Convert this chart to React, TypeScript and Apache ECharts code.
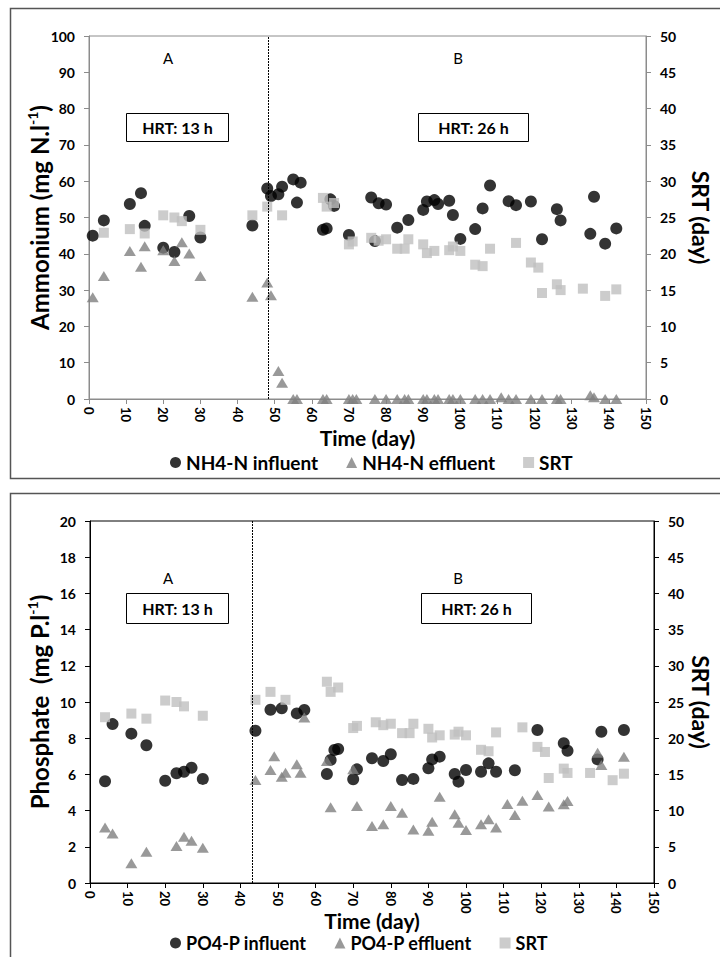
import React, { useEffect, useRef } from "react";
import * as echarts from "echarts";

// ---------- DATA ----------
const xTicks = [0, 150, 10];

// Top chart (ammonium)
const nInfDays = [1, 4, 11, 14, 15, 20, 23, 27, 30, 44, 48, 49, 51, 52, 55, 56, 57, 63, 64, 65, 66, 70, 76, 77, 78, 80, 83, 86, 90, 91, 93, 94, 97, 98, 100, 104, 106, 108, 113, 115, 119, 122, 126, 127, 135, 136, 139, 142];
const nInfVals = [45, 49.2, 53.7, 56.7, 47.7, 41.7, 40.5, 50.4, 44.5, 47.8, 58, 55.9, 56.4, 58.5, 60.5, 54.1, 59.6, 46.6, 47, 55, 53.2, 45.2, 55.5, 43.5, 53.9, 53.6, 47.2, 49.3, 52.1, 54.4, 54.8, 53.7, 54.6, 50.7, 44.1, 46.8, 52.5, 58.8, 54.5, 53.4, 54.4, 44.0, 52.3, 49.2, 45.5, 55.7, 42.8, 47.0];

const nEffDays = [1, 4, 11, 14, 15, 20, 23, 25, 27, 30, 44, 48, 49, 51, 52, 55, 56, 63, 64, 70, 71, 72, 77, 80, 83, 85, 86, 90, 91, 93, 94, 97, 98, 100, 104, 106, 108, 111, 113, 115, 119, 122, 126, 127, 135, 136, 139, 142];
const nEffVals = [28, 33.9, 40.8, 36.4, 42.1, 41, 38, 43.2, 40.1, 33.9, 28.2, 32.1, 28.6, 7.7, 4.5, 0, 0, 0, 0, 0, 0, 0, 0, 0, 0, 0, 0, 0, 0, 0, 0, 0, 0, 0, 0, 0, 0, 0.5, 0, 0, 0, 0, 0, 0, 1.0, 0.5, 0, 0];

const nSrtDays = [4, 11, 15, 20, 23, 25, 30, 44, 48, 52, 63, 64, 66, 70, 71, 76, 78, 80, 83, 85, 86, 90, 91, 93, 97, 98, 100, 104, 106, 108, 115, 119, 121, 122, 126, 127, 133, 139, 142];
const nSrtVals = [22.9, 23.4, 22.8, 25.3, 25.0, 24.5, 23.3, 25.3, 26.5, 25.3, 27.7, 26.5, 27.0, 21.3, 21.7, 22.2, 21.8, 22.0, 20.7, 20.7, 22.0, 21.3, 20.1, 20.4, 20.5, 21.0, 20.4, 18.5, 18.3, 20.7, 21.5, 18.8, 18.1, 14.6, 15.8, 15.0, 15.2, 14.2, 15.1];

// Bottom chart (phosphate)
const pInfDays = [4, 6, 11, 15, 20, 23, 25, 27, 30, 44, 48, 51, 55, 57, 63, 64, 65, 66, 70, 71, 75, 78, 80, 83, 86, 90, 91, 93, 97, 98, 100, 104, 106, 108, 113, 119, 126, 127, 135, 136, 142];
const pInfVals = [5.62, 8.78, 8.25, 7.61, 5.65, 6.06, 6.15, 6.37, 5.75, 8.41, 9.57, 9.65, 9.37, 9.56, 6.02, 6.8, 7.35, 7.4, 5.73, 6.28, 6.89, 6.74, 7.11, 5.69, 5.75, 6.34, 6.83, 6.98, 6.02, 5.6, 6.24, 6.15, 6.61, 6.15, 6.23, 8.45, 7.72, 7.31, 6.83, 8.36, 8.45];

const pEffDays = [4, 6, 11, 15, 23, 25, 27, 30, 44, 48, 49, 51, 52, 55, 56, 57, 63, 64, 70, 71, 75, 78, 80, 83, 86, 90, 91, 93, 97, 98, 100, 104, 106, 108, 111, 113, 115, 119, 122, 126, 127, 135, 136, 142];
const pEffVals = [3.06, 2.74, 1.09, 1.73, 2.04, 2.56, 2.34, 1.95, 5.69, 6.24, 7.0, 5.87, 6.09, 6.56, 6.09, 9.15, 6.74, 4.18, 6.28, 4.25, 3.15, 3.24, 4.25, 3.88, 2.96, 2.89, 3.39, 4.77, 3.8, 3.33, 2.93, 3.24, 3.52, 3.06, 4.36, 3.76, 4.55, 4.86, 4.22, 4.35, 4.53, 7.2, 6.52, 6.98];

const pSrtDays = [4, 11, 15, 20, 23, 25, 30, 44, 48, 52, 63, 64, 66, 70, 71, 76, 78, 80, 83, 85, 86, 90, 91, 93, 97, 98, 100, 104, 106, 108, 115, 119, 121, 122, 126, 127, 133, 139, 142];
const pSrtVals = [22.9, 23.4, 22.7, 25.2, 25.0, 24.4, 23.1, 25.3, 26.4, 25.3, 27.8, 26.4, 27.0, 21.4, 21.7, 22.2, 21.8, 22.0, 20.7, 20.7, 22.0, 21.3, 20.1, 20.4, 20.5, 20.9, 20.4, 18.4, 18.2, 20.8, 21.5, 18.8, 18.1, 14.5, 15.8, 15.2, 15.2, 14.2, 15.1];

const topPhaseSplit = 48.3;
const bottomPhaseSplit = 43.2;

const topLegend = ["NH4-N influent", "NH4-N effluent", "SRT"];
const bottomLegend = ["PO4-P influent", "PO4-P effluent", "SRT"];

// ---------- STYLE ----------
const FONT = "Lato, 'Open Sans', sans-serif";
const C_INF = "#000000";
const C_EFF = "#7f7f7f";
const C_SRT = "#bfbfbf";

const zip = (d: number[], v: number[]) => d.map((x, i) => [x, v[i]]);

function makeAxes(gridIndex: number, axisColor: string, leftMax: number, leftInt: number, leftName: string, gapL: number, gapR: number, gapX: number) {
  const line = { show: true, lineStyle: { color: axisColor, width: 1 } };
  const tick = { show: true, inside: false, length: 5, lineStyle: { color: axisColor } };
  const lab = { color: "#000", fontFamily: FONT, fontWeight: "bold" as const, fontSize: 14 };
  const xAxis = {
    type: "value",
    gridIndex,
    min: xTicks[0],
    max: xTicks[1],
    interval: xTicks[2],
    axisLine: { ...line, onZero: false },
    axisTick: tick,
    splitLine: { show: false },
    axisLabel: { ...lab, fontSize: 13, rotate: -90, margin: 8 },
    name: "Time (day)",
    nameLocation: "middle",
    nameGap: gapX,
    nameMoveOverlap: false,
    nameTextStyle: { color: "#000", fontFamily: FONT, fontWeight: "bold", fontSize: 21 },
  };
  const yLeft = {
    type: "value",
    gridIndex,
    position: "left",
    min: 0,
    max: leftMax,
    interval: leftInt,
    axisLine: line,
    axisTick: tick,
    splitLine: { show: false },
    axisLabel: { ...lab, margin: 14 },
    name: leftName,
    nameLocation: "middle",
    nameGap: gapL,
    nameMoveOverlap: false,
    nameRotate: 90,
    nameTextStyle: {
      color: "#000",
      rich: {
        b: { fontFamily: FONT, fontWeight: "bold", fontSize: 24, color: "#000", lineHeight: 28 },
        s: { fontFamily: FONT, fontWeight: "bold", fontSize: 14, color: "#000", verticalAlign: "top", lineHeight: 28 },
      },
    },
  };
  const yRight = {
    type: "value",
    gridIndex,
    position: "right",
    min: 0,
    max: 50,
    interval: 5,
    axisLine: line,
    axisTick: tick,
    splitLine: { show: false },
    axisLabel: { ...lab, margin: 14 },
    name: "SRT (day)",
    nameLocation: "middle",
    nameGap: gapR,
    nameMoveOverlap: false,
    nameRotate: -90,
    nameTextStyle: { color: "#000", fontFamily: FONT, fontWeight: "bold", fontSize: 23 },
  };
  return { xAxis, yLeft, yRight };
}

function makeSeries(gi: number, names: string[], inf: number[][], eff: number[][], srt: number[][], split: number) {
  const xi = gi;
  const yl = gi * 2;
  const yr = gi * 2 + 1;
  return [
    {
      name: names[0],
      type: "scatter",
      xAxisIndex: xi,
      yAxisIndex: yl,
      symbol: "circle",
      symbolSize: 12,
      itemStyle: { color: C_INF },
      data: inf,
      markLine: {
        silent: true,
        symbol: "none",
        label: { show: false },
        lineStyle: { color: "#000", type: [2, 1], width: 1 },
        data: [{ xAxis: split }],
      },
    },
    {
      name: names[1],
      type: "scatter",
      xAxisIndex: xi,
      yAxisIndex: yl,
      symbol: "triangle",
      symbolSize: [12, 10],
      itemStyle: { color: C_EFF },
      data: eff,
    },
    {
      name: names[2],
      type: "scatter",
      xAxisIndex: xi,
      yAxisIndex: yr,
      symbol: "rect",
      symbolSize: 10,
      itemStyle: { color: C_SRT },
      data: srt,
    },
  ];
}

function hrtBox(x: number, y: number, w: number, h: number, label: string) {
  return {
    type: "group",
    children: [
      { type: "rect", shape: { x, y, width: w, height: h }, style: { fill: "#fff", stroke: "#000", lineWidth: 1 } },
      {
        type: "text",
        x: x + w / 2,
        y: y + h / 2,
        style: { text: label, fill: "#000", font: `bold 16px ${FONT}`, align: "center", verticalAlign: "middle" },
      },
    ],
  };
}

function letter(x: number, y: number, t: string) {
  return {
    type: "text",
    x,
    y,
    style: { text: t, fill: "#000", font: `15px ${FONT}`, align: "center", verticalAlign: "middle" },
  };
}

export default function App() {
  const ref = useRef<HTMLDivElement>(null);
  useEffect(() => {
    if (!ref.current) return;
    const chart = echarts.init(ref.current, null, { renderer: "svg" });
    const top = makeAxes(0, "#8c8c8c", 100, 10, "{b|Ammonium (mg N.l}{s|-1}{b|)}", 36, 43, 28);
    const bot = makeAxes(1, "#000000", 20, 2, "{b|Phosphate  (mg P.l}{s|-1}{b|)}", 37, 35, 27);
    const legendCommon = {
      itemWidth: 11,
      itemHeight: 11,
      itemGap: 28,
      textStyle: { color: "#000", fontFamily: FONT, fontWeight: "bold", fontSize: 19 },
      selectedMode: false,
    };
    const icons = ["circle", "triangle", "rect"];
    chart.setOption({
      animation: false,
      backgroundColor: "#fff",
      grid: [
        { left: 89, top: 36, width: 563, height: 363, show: true, borderColor: "#8c8c8c", borderWidth: 1, backgroundColor: "transparent" },
        { left: 90, top: 521, width: 573, height: 362, show: true, borderColor: "#000", borderWidth: 1, backgroundColor: "transparent" },
      ],
      xAxis: [top.xAxis, bot.xAxis],
      yAxis: [top.yLeft, top.yRight, bot.yLeft, bot.yRight],
      legend: [
        { ...legendCommon, left: 165, top: 448, data: topLegend.map((n, i) => ({ name: n, icon: icons[i] })) },
        { ...legendCommon, left: 165, top: 929, textStyle: { ...legendCommon.textStyle, fontSize: 18 }, data: bottomLegend.map((n, i) => ({ name: n, icon: icons[i] })) },
      ],
      graphic: [
        { type: "rect", z: -10, shape: { x: 10.5, y: 8.5, width: 720, height: 470 }, style: { fill: "none", stroke: "#555", lineWidth: 1.5 } },
        { type: "rect", z: -10, shape: { x: 10.5, y: 493.5, width: 720, height: 480 }, style: { fill: "none", stroke: "#555", lineWidth: 1.5 } },
        letter(168, 58, "A"),
        letter(458, 58, "B"),
        letter(168, 578, "A"),
        letter(458, 578, "B"),
        hrtBox(126.5, 113.5, 102, 28, "HRT: 13 h"),
        hrtBox(418.5, 113.5, 110, 28, "HRT: 26 h"),
        hrtBox(126.5, 593.5, 102, 30, "HRT: 13 h"),
        hrtBox(421.5, 593.5, 110, 30, "HRT: 26 h"),
      ],
      series: [
        ...makeSeries(0, topLegend, zip(nInfDays, nInfVals), zip(nEffDays, nEffVals), zip(nSrtDays, nSrtVals), topPhaseSplit),
        ...makeSeries(1, bottomLegend, zip(pInfDays, pInfVals), zip(pEffDays, pEffVals), zip(pSrtDays, pSrtVals), bottomPhaseSplit),
      ],
    });
    return () => chart.dispose();
  }, []);
  return <div ref={ref} style={{ position: "fixed", left: 0, top: 0, width: 720, height: 957 }} />;
}
